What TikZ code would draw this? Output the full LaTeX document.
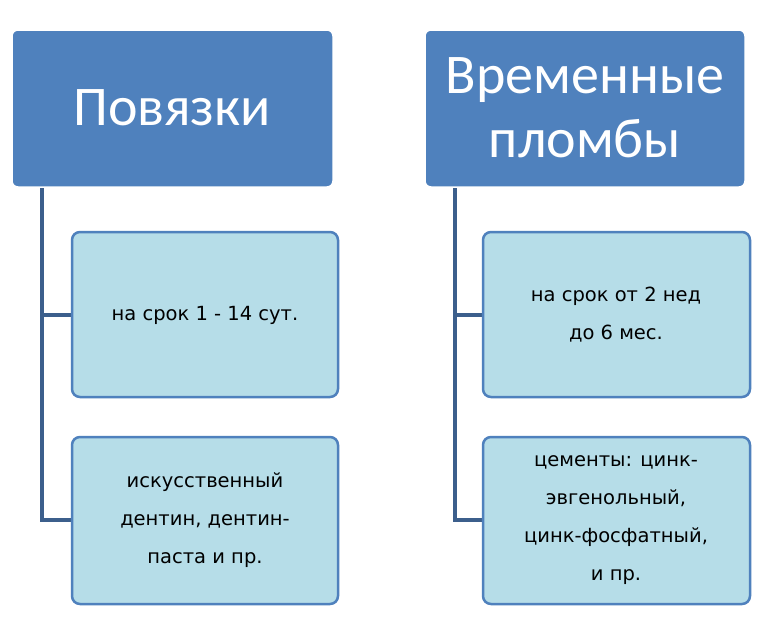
\documentclass[tikz,border=0pt]{standalone}
\usepackage{fontspec}
\setmainfont{Carlito}
\newfontfamily\childfont{DejaVu Sans}
\begin{document}
\begin{tikzpicture}[x=1pt,y=-1pt,
  parent/.style={draw=white,line width=1.5pt,fill=pblue,rounded corners=6pt},
  child/.style={draw=pblue,line width=2.5pt,fill=cblue,rounded corners=8pt},
  ptext/.style={text=white,font=\fontsize{56}{64}\selectfont,align=center},
  ctext/.style={text=black,font=\childfont\fontsize{19.5}{38}\selectfont,align=center},
  conn/.style={draw=lineblue,line width=4pt}]
\definecolor{pblue}{HTML}{4F81BD}
\definecolor{cblue}{HTML}{B6DDE8}
\definecolor{lineblue}{HTML}{3C5F8C}
\useasboundingbox (0,0) rectangle (764,622);
\path[fill=white] (0,0) rectangle (764,622);
% left
\coordinate (p1b) at (42,187);
\coordinate (c11l) at (72,315);
\coordinate (c12l) at (72,520);
\draw[conn] (p1b) |- (c11l);
\draw[conn] (p1b) |- (c12l);
\path[parent] (12,30) rectangle (333,187);
\node[ptext] (p1) at (172,108) {Повязки};
\path[child] (72,232) rectangle (338,397);
\node[ctext] (c11) at (205,315) {на срок 1 - 14 сут.};
\path[child] (72,437) rectangle (338,604);
\node[ctext] (c12) at (205,520) {искусственный\\дентин, дентин-\\паста и пр.};
% right
\coordinate (p2b) at (455,187);
\coordinate (c21l) at (483,315);
\coordinate (c22l) at (483,520);
\draw[conn] (p2b) |- (c21l);
\draw[conn] (p2b) |- (c22l);
\path[parent] (425,30) rectangle (745,187);
\node[ptext] (p2) at (585,108) {Временные\\пломбы};
\path[child] (483,232) rectangle (750,397);
\node[ctext] (c21) at (616,315) {на срок от 2 нед\\до 6 мес.};
\path[child] (483,437) rectangle (750,604);
\node[ctext] (c22) at (616,520) {цементы: цинк-\\эвгенольный,\\цинк-фосфатный,\\и пр.};
\end{tikzpicture}
\end{document}
